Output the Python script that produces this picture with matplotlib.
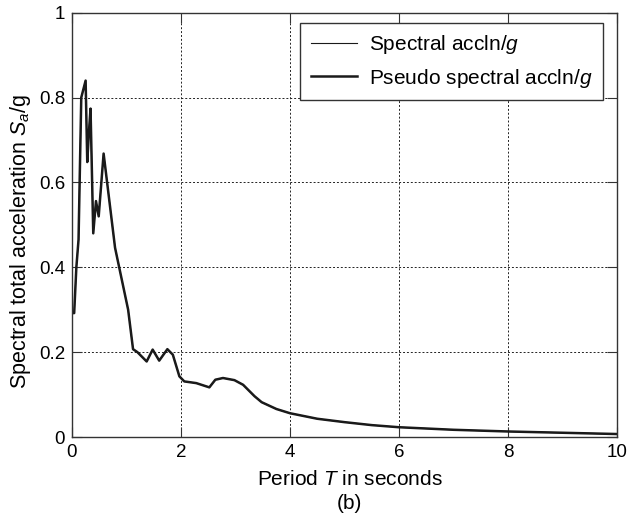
import matplotlib
matplotlib.use("Agg")
import matplotlib.pyplot as plt

plt.rcParams["font.family"] = ["Liberation Sans", "DejaVu Sans"]
plt.rcParams["mathtext.fontset"] = "custom"
plt.rcParams["mathtext.rm"] = "Liberation Sans"
plt.rcParams["mathtext.it"] = "Liberation Sans:italic"

# period T (s) and spectral acceleration Sa/g
period = [0.0, 0.04, 0.08, 0.12, 0.17, 0.25, 0.28, 0.31, 0.34, 0.39, 0.44,
          0.49, 0.58, 0.79, 1.03, 1.12, 1.20, 1.37, 1.48, 1.60, 1.75, 1.85,
          1.97, 2.06, 2.28, 2.52, 2.63, 2.77, 2.98, 3.14, 3.35, 3.48, 3.75,
          4.0, 4.5, 5.0, 5.5, 6.0, 7.0, 8.0, 9.0, 10.0]
spectral = [0.292, 0.292, 0.40, 0.465, 0.80, 0.84, 0.648, 0.717, 0.774, 0.48,
            0.556, 0.52, 0.668, 0.446, 0.30, 0.207, 0.20, 0.178, 0.206, 0.18,
            0.207, 0.194, 0.143, 0.131, 0.127, 0.117, 0.135, 0.139, 0.134,
            0.123, 0.096, 0.082, 0.066, 0.056, 0.043, 0.035, 0.028, 0.023,
            0.017, 0.013, 0.010, 0.007]
pseudo = spectral

fig = plt.figure(figsize=(6.36, 5.16), dpi=100)
ax = fig.add_axes([0.1132, 0.1531, 0.857, 0.8223])

ax.plot(period, spectral, color="#1a1a1a", lw=0.8, label="Spectral accln/$g$")
ax.plot(period, pseudo, color="#1a1a1a", lw=1.8, label="Pseudo spectral accln/$g$")

ax.set_xlim(0, 10)
ax.set_ylim(0, 1)
ax.set_xticks([0, 2, 4, 6, 8, 10])
ax.set_yticks([0, 0.2, 0.4, 0.6, 0.8, 1])
ax.set_yticklabels(["0", "0.2", "0.4", "0.6", "0.8", "1"])
ax.tick_params(direction="in", top=True, right=True, labelsize=13.5, length=7,
               color="#333333", pad=5)
ax.grid(True, color="#222222", linestyle=(0, (2, 2)), lw=0.7)
for s in ax.spines.values():
    s.set_linewidth(1.0)
    s.set_color("#333333")

ax.set_xlabel("Period $T$ in seconds", fontsize=15)
ax.xaxis.set_label_coords(0.51, -0.078)
ax.set_ylabel("Spectral total acceleration $S_a$/g", fontsize=15.5)
ax.yaxis.set_label_coords(-0.072, 0.46)
fig.text(0.550, 0.025, "(b)", ha="center", va="center", fontsize=15)

leg = ax.legend(loc="upper right", fontsize=15, fancybox=False, framealpha=1,
                edgecolor="#333333", handlelength=2.2, handletextpad=0.6,
                borderpad=0.5, labelspacing=0.5, borderaxespad=0,
                bbox_to_anchor=(0.974, 0.976))
leg.get_frame().set_linewidth(1.0)

fig.savefig("out.png", dpi=100)
